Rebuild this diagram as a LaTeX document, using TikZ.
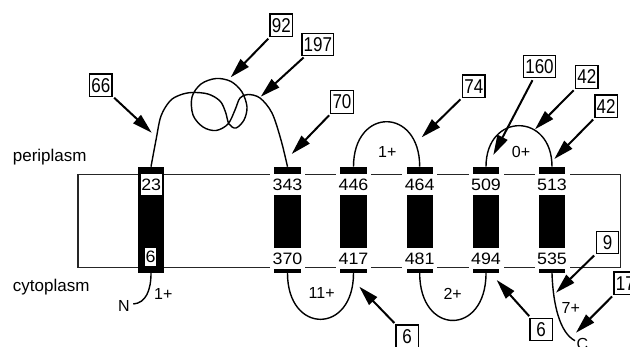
\documentclass[tikz,border=0pt]{standalone}
\usepackage{fontspec}
\usepackage{graphicx}
\setmainfont{Liberation Sans}
\usetikzlibrary{arrows.meta}

% digit styles: wide numbers on the helices, narrow numbers in the boxes
\newcommand{\tmnum}[1]{\scalebox{1.08}[1]{#1}}
\newcommand{\boxnum}[1]{\scalebox{0.85}[1]{#1}}

\tikzset{
  memb/.style={draw=black!85, line width=1.5pt},
  chain/.style={draw=black, line width=1.4pt},
  tmlab/.style={fill=white, inner sep=0pt, font=\fontsize{16.5}{16.5}\selectfont},
  looplab/.style={inner sep=0pt, font=\fontsize{16}{16}\selectfont},
  sidelab/.style={inner sep=0pt, font=\fontsize{17}{17}\selectfont, anchor=base west},
  numbox/.style={draw=black, fill=white, line width=1.3pt, inner sep=0pt,
    minimum width=22.5pt, minimum height=22.5pt, font=\fontsize{20}{20}\selectfont},
  wbox/.style={numbox, minimum width=31.5pt, minimum height=22pt},
  arr/.style={line width=2pt, -{Triangle[length=20pt,width=11pt]}, shorten <=2pt}
}

\begin{document}
\begin{tikzpicture}[x=1pt, y=-1pt]
\useasboundingbox (0,0) rectangle (630,346);
\fill[white] (0,0) rectangle (630,346);

% membrane
\draw[memb] (78,174.7) rectangle (620.7,267.7);
\node[sidelab] (peri) at (12.7,161.7) {periplasm};
\node[sidelab] (cyto) at (12.7,291) {cytoplasm};

% helices
\foreach \i/\x in {1/151,2/287.5,3/353.5,4/419.7,5/486,6/552} {
  \fill[black] (\x-13.2,166.7) rectangle (\x+13.2,273.2);
  \coordinate (t\i) at (\x,166.7);
  \coordinate (b\i) at (\x,273.2);
}

% helix end labels
\node[tmlab, minimum width=21pt, minimum height=21pt] (h23) at (151.2,184.5) {\tmnum{23}};
\node[tmlab, minimum width=11pt, minimum height=17.7pt] (h6) at (150.5,257.2) {\tmnum{6}};
\foreach \x/\up/\dn in {287.5/343/370, 353.5/446/417, 419.7/464/481, 486/509/494, 552/513/535} {
  \node[tmlab, minimum width=35pt, minimum height=21pt] (h\up) at (\x,184.5) {\tmnum{\up}};
  \node[tmlab, minimum width=35pt, minimum height=20.3pt] (h\dn) at (\x,258.5) {\tmnum{\dn}};
}

% periplasmic loops (the long first loop coils twice)
\draw[chain] plot[smooth, tension=0.55] coordinates {
  (t1) (156,140) (161,116) (170,101) (180,95) (192,92.5) (208,94)
  (220,101) (225.5,112) (229,124) (236,128) (244,120) (247,107)
  (242,92) (231,81.5) (216,78.5) (201,84) (192,97) (193,115)
  (203,127) (216,130.5) (228,124) (235,110) (240,98) (248,94.5)
  (260,98) (272,113) (281,140) (t2)};
\draw[chain] (t3) .. controls +(0,-60) and +(0,-60) .. (t4);
\draw[chain] (t5) .. controls +(0,-54.7) and +(0,-54.7) .. (t6);

% cytoplasmic loops and termini
\draw[chain] (b2) .. controls +(0,61.5) and +(0,61.5) .. (b3);
\draw[chain] (b4) .. controls +(0,63) and +(0,63) .. (b5);
\coordinate (nend) at (133.3,304);
\coordinate (cend) at (575,340.7);
\draw[chain] (b1) .. controls (151,290) and (146,303) .. (nend);
\draw[chain] (b6) .. controls (553,305) and (560,333) .. (cend);
\node[looplab] (nN) at (123.8,305.8) {N};
\node[looplab] (nC) at (582.5,344) {C};

% charge labels
\node[looplab] (q1) at (387.3,151.7) {1+};
\node[looplab] (q2) at (521,151.7) {0+};
\node[looplab] (q3) at (321.7,293.3) {11+};
\node[looplab] (q4) at (452.7,294) {2+};
\node[looplab] (q5) at (163.3,294) {1+};
\node[looplab] (q6) at (570.8,307.5) {7+};

% fusion positions
\node[numbox] (p66) at (100.8,85.3) {\boxnum{66}};
\node[numbox] (p92) at (281.3,25.3) {\boxnum{92}};
\node[wbox] (p197) at (317.8,44.5) {\boxnum{197}};
\node[numbox] (p70) at (342,102) {\boxnum{70}};
\node[numbox] (p74) at (473.8,86.2) {\boxnum{74}};
\node[wbox] (p160) at (539.5,66.8) {\boxnum{160}};
\node[numbox] (p42a) at (586.8,77) {\boxnum{42}};
\node[numbox] (p42b) at (606.2,106.2) {\boxnum{42}};
\node[numbox] (p9) at (607.5,242.5) {\boxnum{9}};
\node[numbox] (p17) at (625.3,283.2) {\boxnum{17}};
\node[numbox] (p6a) at (407.2,336.3) {\boxnum{6}};
\node[numbox] (p6b) at (541.2,329.5) {\boxnum{6}};

\coordinate (a66) at (151.7,132.7);
\coordinate (a92) at (230.7,77.3);
\coordinate (a197) at (260.7,96.7);
\coordinate (a70) at (291.7,154);
\coordinate (a74) at (421.7,137.3);
\coordinate (a160) at (493.3,155);
\coordinate (a42a) at (535,129.3);
\coordinate (a42b) at (554.3,159);
\coordinate (a9) at (556,292.7);
\coordinate (a17) at (576,332.7);
\coordinate (a6a) at (359.3,286.7);
\coordinate (a6b) at (496.7,280);

\foreach \k in {66,92,197,70,74,160,42a,42b,9,17,6a,6b}
  \draw[arr] (p\k) -- (a\k);
\end{tikzpicture}
\end{document}
